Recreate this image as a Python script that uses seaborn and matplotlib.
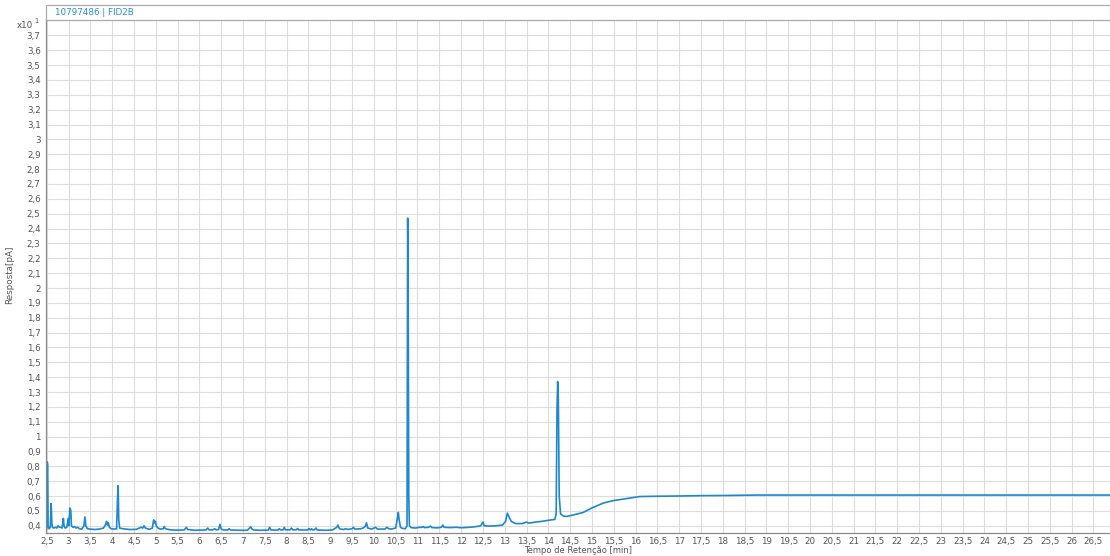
import numpy as np
import pandas as pd
import matplotlib
matplotlib.use("Agg")
import matplotlib.pyplot as plt
from matplotlib.ticker import MultipleLocator, FixedLocator, FuncFormatter
from matplotlib.patches import Rectangle
import seaborn as sns

# ---- data (time in min, response x10 pA) ----
time_min = [
    2.500, 2.510, 2.520, 2.530, 2.550, 2.580, 2.600, 2.615, 2.630, 2.660,
    2.700, 2.730, 2.760, 2.790, 2.820, 2.850, 2.880, 2.895, 2.920, 2.960,
    2.990, 3.005, 3.030, 3.050, 3.065, 3.100, 3.140, 3.170, 3.210, 3.250,
    3.300, 3.350, 3.375, 3.395, 3.430, 3.500, 3.600, 3.700, 3.800, 3.850,
    3.870, 3.890, 3.910, 3.935, 3.980, 4.050, 4.100, 4.120, 4.135, 4.150,
    4.170, 4.250, 4.400, 4.550, 4.620, 4.660, 4.700, 4.730, 4.760, 4.850,
    4.920, 4.950, 4.970, 4.990, 5.010, 5.050, 5.100, 5.170, 5.190, 5.220,
    5.350, 5.500, 5.650, 5.700, 5.730, 5.900, 6.150, 6.190, 6.220, 6.300,
    6.350, 6.380, 6.440, 6.470, 6.500, 6.550, 6.650, 6.680, 6.710, 6.900,
    7.100, 7.150, 7.175, 7.200, 7.240, 7.400, 7.580, 7.610, 7.640, 7.800,
    7.830, 7.860, 7.920, 7.945, 7.970, 8.080, 8.110, 8.140, 8.220, 8.250,
    8.280, 8.480, 8.510, 8.540, 8.570, 8.600, 8.640, 8.670, 8.700, 8.900,
    9.050, 9.150, 9.175, 9.210, 9.300, 9.350, 9.400, 9.450, 9.500, 9.530,
    9.560, 9.700, 9.750, 9.800, 9.830, 9.860, 9.950, 10.000, 10.040, 10.080,
    10.250, 10.300, 10.330, 10.400, 10.500, 10.540, 10.560, 10.580, 10.610, 10.650,
    10.720, 10.760, 10.775, 10.785, 10.800, 10.815, 10.850, 10.950, 11.050, 11.100,
    11.130, 11.160, 11.250, 11.300, 11.330, 11.450, 11.550, 11.580, 11.610, 11.750,
    11.900, 12.000, 12.200, 12.350, 12.450, 12.500, 12.530, 12.650, 12.800, 12.950,
    13.020, 13.060, 13.090, 13.150, 13.250, 13.400, 13.500, 13.550, 13.700, 13.850,
    14.000, 14.150, 14.180, 14.200, 14.215, 14.230, 14.250, 14.280, 14.350, 14.420,
    14.600, 14.800, 15.000, 15.260, 15.500, 15.720, 16.100, 16.500, 16.860, 17.500,
    18.000, 18.850, 20.000, 22.000, 24.000, 26.900,
]
response = [
    0.380, 0.830, 0.810, 0.400, 0.380, 0.390, 0.550, 0.420, 0.390, 0.385,
    0.390, 0.385, 0.400, 0.390, 0.390, 0.385, 0.450, 0.400, 0.385, 0.390,
    0.450, 0.400, 0.520, 0.500, 0.400, 0.390, 0.395, 0.385, 0.390, 0.380,
    0.378, 0.400, 0.460, 0.400, 0.380, 0.378, 0.375, 0.378, 0.385, 0.410,
    0.430, 0.405, 0.420, 0.390, 0.380, 0.378, 0.380, 0.570, 0.670, 0.440,
    0.385, 0.380, 0.375, 0.376, 0.385, 0.390, 0.385, 0.400, 0.385, 0.376,
    0.385, 0.440, 0.420, 0.430, 0.400, 0.385, 0.378, 0.380, 0.395, 0.380,
    0.372, 0.371, 0.372, 0.390, 0.375, 0.370, 0.372, 0.385, 0.373, 0.372,
    0.380, 0.373, 0.375, 0.410, 0.378, 0.372, 0.372, 0.380, 0.372, 0.370,
    0.370, 0.385, 0.393, 0.380, 0.372, 0.370, 0.371, 0.390, 0.372, 0.371,
    0.380, 0.372, 0.373, 0.390, 0.373, 0.373, 0.385, 0.373, 0.373, 0.382,
    0.372, 0.372, 0.382, 0.372, 0.380, 0.372, 0.373, 0.385, 0.372, 0.370,
    0.372, 0.390, 0.405, 0.380, 0.375, 0.380, 0.376, 0.378, 0.380, 0.390,
    0.378, 0.380, 0.385, 0.395, 0.420, 0.385, 0.378, 0.385, 0.390, 0.378,
    0.378, 0.390, 0.382, 0.378, 0.385, 0.450, 0.490, 0.440, 0.390, 0.383,
    0.380, 0.400, 2.470, 2.080, 0.600, 0.400, 0.388, 0.385, 0.390, 0.390,
    0.395, 0.388, 0.390, 0.398, 0.388, 0.386, 0.390, 0.405, 0.390, 0.388,
    0.390, 0.387, 0.390, 0.395, 0.400, 0.425, 0.400, 0.398, 0.400, 0.405,
    0.430, 0.485, 0.465, 0.430, 0.415, 0.415, 0.425, 0.418, 0.425, 0.430,
    0.437, 0.443, 0.480, 1.200, 1.370, 1.250, 0.600, 0.480, 0.465, 0.463,
    0.475, 0.490, 0.520, 0.553, 0.570, 0.580, 0.597, 0.599, 0.600, 0.603,
    0.604, 0.607, 0.607, 0.607, 0.607, 0.607,
]
y_tick_values = [0.4, 0.5, 0.6, 0.7, 0.8, 0.9, 1.0, 1.1, 1.2, 1.3, 1.4, 1.5,
                 1.6, 1.7, 1.8, 1.9, 2.0, 2.1, 2.2, 2.3, 2.4, 2.5, 2.6, 2.7,
                 2.8, 2.9, 3.0, 3.1, 3.2, 3.3, 3.4, 3.5, 3.6, 3.7]
x_ticks_step = 0.5
trace_name = "10797486 | FID2B"
x_label = "Tempo de Retenção [min]"
y_label = "Resposta[pA]"

df = pd.DataFrame({"t": time_min, "r": response})

sns.set_theme(style="whitegrid")
plt.rcParams["font.family"] = ["DejaVu Sans"]

W, H = 1110, 556
fig = plt.figure(figsize=(W / 100, H / 100), dpi=100)
ax = fig.add_axes([45.5 / W, (H - 532.5) / H, 1 - 45.5 / W, (532.5 - 19) / H])

sns.lineplot(data=df, x="t", y="r", ax=ax, color="#1c88d2", linewidth=1.2,
             estimator=None, sort=False)

ax.set_xlim(2.47, 26.88)
ax.set_ylim(0.355, 3.81)
ax.xaxis.set_major_locator(MultipleLocator(x_ticks_step))
ax.yaxis.set_major_locator(FixedLocator(y_tick_values))

def fmt(v, pos):
    s = f"{round(v, 2):g}"
    return s.replace(".", ",")

ax.xaxis.set_major_formatter(FuncFormatter(fmt))
ax.yaxis.set_major_formatter(FuncFormatter(fmt))

ax.grid(True, color="#dddddd", linewidth=0.8)
ax.set_facecolor("white")
for side in ["top", "right"]:
    ax.spines[side].set_visible(False)
for side in ["left", "bottom"]:
    ax.spines[side].set_color("#8a8a8a")
    ax.spines[side].set_linewidth(0.9)

ax.tick_params(axis="both", which="major", labelsize=6.3,
               length=2, width=0.6, pad=1.5, direction="out")
ax.tick_params(axis="x", colors="#8a8a8a", labelcolor="#555555")
ax.tick_params(axis="y", colors="#8a8a8a", labelcolor="#555555")

ax.set_xlabel("")
ax.set_ylabel("")
fig.text(578 / W, 1 - 550.5 / H, x_label, ha="center", va="center",
         fontsize=6.0, color="#555555")
fig.text(10 / W, 1 - 275 / H, y_label, ha="center", va="center",
         rotation=90, fontsize=6.3, color="#555555")

# multiplier
fig.text(17 / W, 1 - 25 / H, "x10", ha="left", va="center",
         fontsize=6.3, color="#555555")
fig.text(34 / W, 1 - 21 / H, "1", ha="left", va="center",
         fontsize=4.8, color="#555555")

# header tab
rect = Rectangle((45.5 / W, 1 - 19.5 / H), 1 - 45.5 / W, 14.5 / H,
                 transform=fig.transFigure, facecolor="white",
                 edgecolor="#aaaaaa", linewidth=0.9)
fig.patches.append(rect)
fig.text(55 / W, 1 - 12.5 / H, trace_name, ha="left", va="center",
         fontsize=6.3, color="#2a8fd6")

fig.savefig("out.png", dpi=100, facecolor="white")
